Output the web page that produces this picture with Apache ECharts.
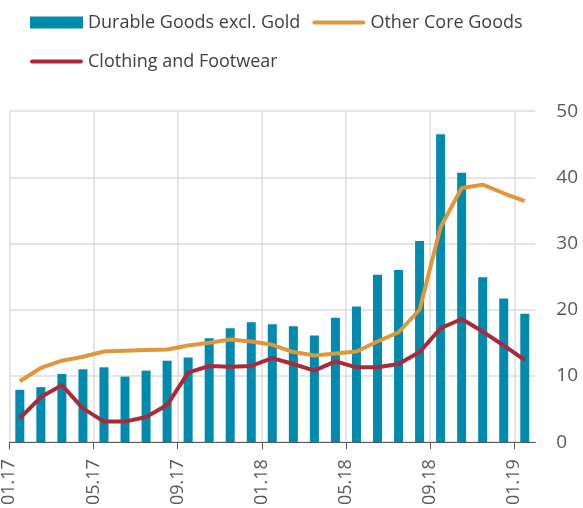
<!DOCTYPE html>
<html>
<head>
<meta charset="utf-8">
<script src="https://cdn.jsdelivr.net/npm/echarts@6/dist/echarts.min.js"></script>
<style>
html,body{margin:0;padding:0;background:#fff;}
#chart{width:583px;height:508px;}
</style>
</head>
<body>
<div id="chart"></div>
<script>
const months = ['01.17','02.17','03.17','04.17','05.17','06.17','07.17','08.17','09.17','10.17','11.17','12.17',
  '01.18','02.18','03.18','04.18','05.18','06.18','07.18','08.18','09.18','10.18','11.18','12.18','01.19'];
const tickLabels = ['01.17','05.17','09.17','01.18','05.18','09.18','01.19'];
const yTicks = [0,10,20,30,40,50];
const durableGoods = [7.9,8.3,10.3,11.0,11.3,9.9,10.8,12.3,12.8,15.7,17.2,18.1,17.8,17.5,16.1,18.8,20.5,25.3,26.0,30.4,46.5,40.7,24.9,21.7,19.4];
const otherCore = [9.2,11.2,12.3,12.9,13.7,13.8,13.9,14.0,14.6,15.0,15.5,15.2,14.7,13.6,13.1,13.4,13.7,15.2,16.6,20.0,32.5,38.4,38.9,37.6,36.4];
const clothing = [3.6,6.8,8.6,5.1,3.1,3.1,3.8,5.6,10.5,11.5,11.4,11.5,12.7,11.8,10.8,12.2,11.3,11.3,11.8,13.6,17.2,18.6,16.7,14.6,12.4];

const tickPos = tickLabels.map(l => months.indexOf(l));
const FONT = 'Open Sans';
const lineIcon = 'path://M2,0H52A2,2 0 0 1 52,4H2A2,2 0 0 1 2,0Z';
const chart = echarts.init(document.getElementById('chart'));
chart.setOption({
  animation: false,
  textStyle: {fontFamily: FONT},
  legend: {
    left: 25, top: 4, width: 520,
    itemWidth: 53, itemHeight: 12, itemGap: 12,
    textStyle: {fontSize: 18, color: '#404040', fontFamily: FONT, lineHeight: 27},
    data: [
      {name: 'Durable Goods excl. Gold', icon: 'rect'},
      {name: 'Other Core Goods', icon: lineIcon},
      {name: 'Clothing and Footwear', icon: lineIcon}
    ]
  },
  grid: {left: 9.3, right: 47.7, top: 111.2, bottom: 63.5, containLabel: false},
  xAxis: [
    {type: 'category', data: months, boundaryGap: true, show: false},
    {
      type: 'value', min: 0, max: months.length, position: 'bottom',
      axisLine: {show: true, lineStyle: {color: '#595959', width: 1}},
      axisTick: {show: true, length: 7, lineStyle: {color: '#595959'}, customValues: tickPos},
      axisLabel: {
        customValues: tickPos, rotate: 90, margin: 17, fontSize: 18, color: '#595959',
        formatter: v => months[v] || ''
      },
      splitLine: {show: true, lineStyle: {color: '#dcdcdc', width: 1.5}}
    }
  ],
  yAxis: {
    type: 'value', min: yTicks[0], max: yTicks[yTicks.length-1], interval: 10, position: 'right',
    axisLine: {show: false}, axisTick: {show: false},
    axisLabel: {fontSize: 19, color: '#595959', margin: 21},
    splitLine: {lineStyle: {color: '#dcdcdc', width: 1.5}}
  },
  series: [
    {name: 'Durable Goods excl. Gold', type: 'bar', xAxisIndex: 0, data: durableGoods, barWidth: 9,
      itemStyle: {color: '#008aad'}},
    {name: 'Other Core Goods', type: 'line', xAxisIndex: 0, data: otherCore, symbol: 'none',
      lineStyle: {color: '#e0963a', width: 4}, itemStyle: {color: '#e0963a'}},
    {name: 'Clothing and Footwear', type: 'line', xAxisIndex: 0, data: clothing, symbol: 'none',
      lineStyle: {color: '#aa2a3a', width: 4}, itemStyle: {color: '#aa2a3a'}}
  ]
});
</script>
</body>
</html>
